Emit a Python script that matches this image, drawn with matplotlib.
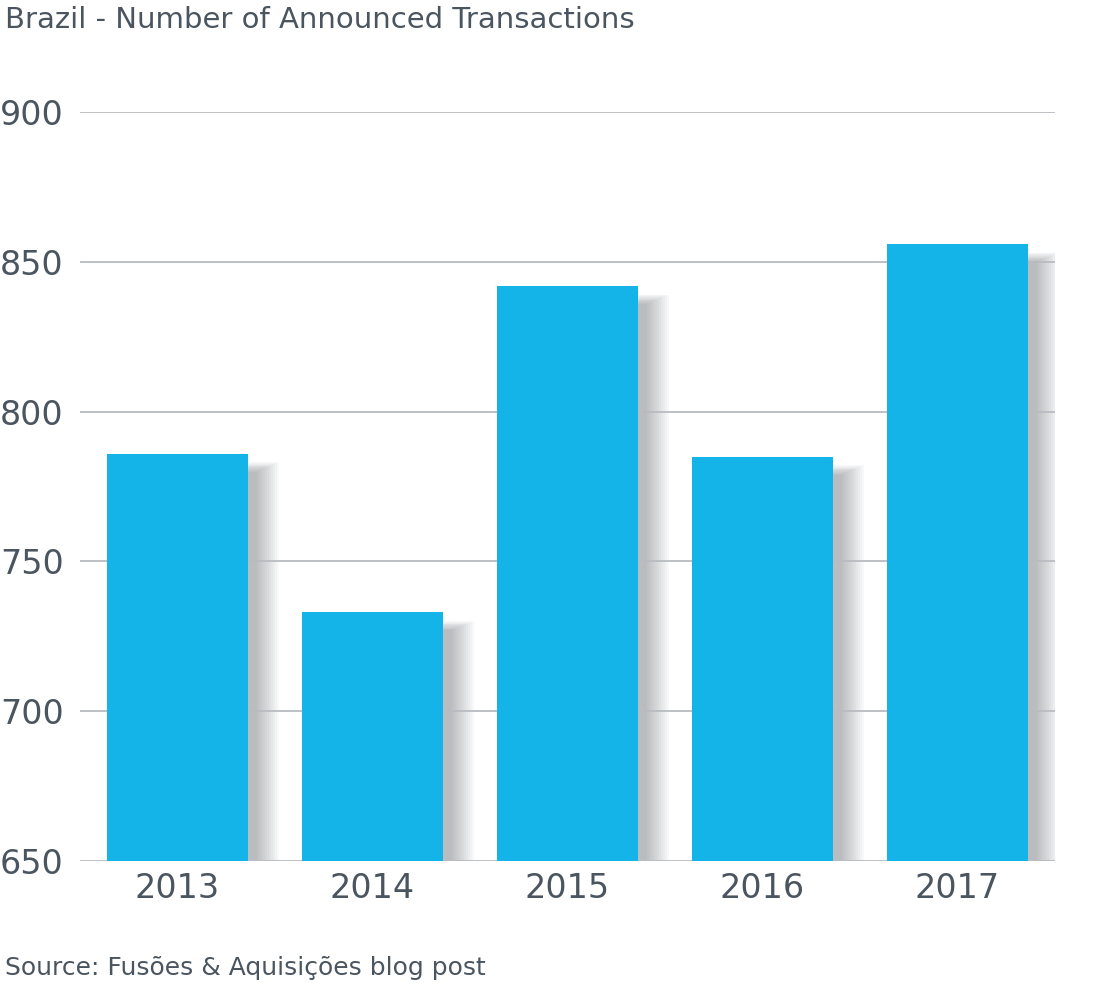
import matplotlib.pyplot as plt
from matplotlib.patches import Rectangle

years = ["2013", "2014", "2015", "2016", "2017"]
transactions = [786, 733, 842, 785, 856]

bar_color = "#14b4e8"
text_color = "#4a5560"

fig = plt.figure(figsize=(11.08, 9.88), dpi=100)
ax = fig.add_axes([80 / 1108, 1 - 861 / 988, 975 / 1108, 749 / 988])
ax.set_xlim(-0.5, 4.5)
ax.set_ylim(650, 900)

width = 0.72
# soft shadow: stacked translucent rectangles offset right/down
for i, v in enumerate(transactions):
    x0 = i - width / 2
    for k in range(12):
        grow = 0.006 * k
        ax.add_patch(Rectangle((x0 + 0.05 - grow + 0.004 * k, 650),
                               width + 2 * grow, v - 650 - 6 + 1.0 * k - 2 * grow * 60,
                               facecolor="#4a5058", alpha=0.035, lw=0, zorder=1))

ax.bar(range(len(years)), [v - 650 for v in transactions], bottom=650,
       width=width, color=bar_color, zorder=3)

ax.set_yticks([650, 700, 750, 800, 850, 900])
ax.yaxis.grid(True, color="#b8bcc0", lw=1.3, zorder=2)
ax.set_axisbelow(False)
for line in ax.get_ygridlines():
    line.set_zorder(2)
ax.tick_params(axis="y", length=0, labelsize=24, labelcolor=text_color, pad=14)
ax.tick_params(axis="x", length=0, labelsize=24, labelcolor=text_color, pad=8)
ax.set_xticks(range(len(years)))
ax.set_xticklabels(years)
for lbl in ax.get_yticklabels():
    lbl.set_horizontalalignment("left")
    lbl.set_x(-80 / 975)
ax.tick_params(axis="y", pad=0)
for s in ax.spines.values():
    s.set_visible(False)

fig.text(5 / 1108, 1 - 20 / 988, "Brazil - Number of Announced Transactions",
         fontsize=21, color=text_color, va="center", ha="left")
fig.text(5 / 1108, 1 - 968 / 988, "Source: Fusões & Aquisições blog post",
         fontsize=18, color=text_color, va="center", ha="left")

fig.savefig("out.png", dpi=100)
